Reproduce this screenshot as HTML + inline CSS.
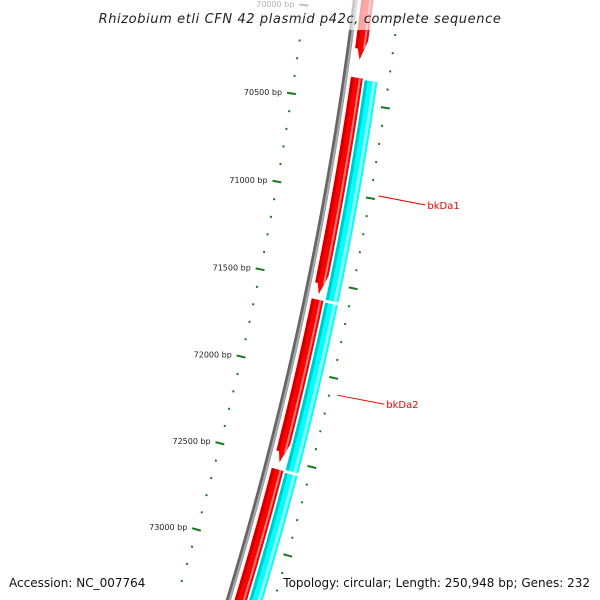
<!DOCTYPE html>
<html><head><meta charset="utf-8"><style>
body{margin:0;background:#fff;overflow:hidden;}
svg{display:block;font-family:"DejaVu Sans","Liberation Sans",sans-serif;}
</style></head><body>
<svg id="chart" width="600" height="600" viewBox="0 0 600 600" xmlns="http://www.w3.org/2000/svg">
<rect width="600" height="600" fill="#fff"/>
<g id="g"></g>
<rect x="0" y="0" width="600" height="30" fill="#fff" fill-opacity="0.65"/>
<text x="300" y="23" text-anchor="middle" font-size="13" font-style="italic" fill="#222" letter-spacing="0.6">Rhizobium etli CFN 42 plasmid p42c, complete sequence</text>
<text x="9" y="587" font-size="12" fill="#111">Accession: NC_007764</text>
<text x="590" y="587" text-anchor="end" font-size="12" fill="#111">Topology: circular; Length: 250,948 bp; Genes: 232</text>
</svg>
<script>
// data
const tickStart = 69900;
const tickEnd = 73300;
const tickStep = 100;
const majorLabels = ["70000 bp","70500 bp","71000 bp","71500 bp","72000 bp","72500 bp","73000 bp"];
const majorPositions = [70000,70500,71000,71500,72000,72500,73000];
const redStarts = [69500, 70360, 71600, 72560];
const redEnds   = [70260, 71570, 72520, 73600];
const cyanStarts = [70360, 71600, 72560];
const cyanEnds   = [71600, 72560, 73600];
const geneLabels = ["bkDa1","bkDa2"];
const geneLabelPos = [70980, 72087];

// geometry
const CX=-3184, CY=-435.7, R=3566;
const A0=0.1257, K=5.08e-5;
function ang(bp){return A0+(bp-70000)*K;}
function pt(bp,r){const a=ang(bp);return [CX+r*Math.cos(a),CY+r*Math.sin(a)];}
const NS="http://www.w3.org/2000/svg";
const g=document.getElementById('g');
function mk(tag,attrs){const e=document.createElementNS(NS,tag);for(const k in attrs)e.setAttribute(k,attrs[k]);g.appendChild(e);return e;}
function bandPath(s,e,r1,r2,arrow){
  const pts=[];const n=40;
  const bodyEnd=arrow?e-110:e;
  for(let i=0;i<=n;i++){pts.push(pt(s+(bodyEnd-s)*i/n,r1));}
  if(arrow)pts.push(pt(e,(r1+r2)/2));
  for(let i=n;i>=0;i--){pts.push(pt(s+(bodyEnd-s)*i/n,r2));}
  return 'M'+pts.map(p=>p[0].toFixed(2)+','+p[1].toFixed(2)).join('L')+'Z';
}
function arcPath(s,e,r){const pts=[];for(let i=0;i<=60;i++)pts.push(pt(s+(e-s)*i/60,r));return 'M'+pts.map(p=>p[0].toFixed(2)+','+p[1].toFixed(2)).join('L');}

let e=mk('path',{d:arcPath(69200,73600,R),stroke:'#666',"stroke-width":5,fill:'none'});


e=mk('path',{d:arcPath(69200,73600,R+1.2),stroke:'#aaa',"stroke-width":2,fill:'none'});



for(let i=0;i<redStarts.length;i++){
  e=mk('path',{d:bandPath(redStarts[i],redEnds[i],R+6,R+18,true),fill:'#ff0000'});
  
  
  e=mk('path',{d:bandPath(redStarts[i],redEnds[i]-60,R+6,R+9,false),fill:'#c80000'});
  
  
  e=mk('path',{d:bandPath(redStarts[i],redEnds[i]-60,R+14,R+16,false),fill:'#ff7a7a'});
  
  
}
for(let i=0;i<cyanStarts.length;i++){
  e=mk('path',{d:bandPath(cyanStarts[i]+8,cyanEnds[i]-8,R+20,R+33,false),fill:'#00ffff'});
  
  
  e=mk('path',{d:bandPath(cyanStarts[i]+8,cyanEnds[i]-8,R+20,R+23,false),fill:'#00c8c8'});
  
  
  e=mk('path',{d:bandPath(cyanStarts[i]+8,cyanEnds[i]-8,R+28,R+31,false),fill:'#8affff'});
  
  
}

for(let bp=tickStart;bp<=tickEnd;bp+=tickStep){
  const major=bp%500===0;
  const a1=pt(bp,major?R-55:R-51), a2=pt(bp,major?R-46:R-49);
  e=mk('line',{x1:a1[0],y1:a1[1],x2:a2[0],y2:a2[1],stroke:'#1c7a1c',"stroke-width":2});
  
  
  const b1=pt(bp,major?R+40:R+43), b2=pt(bp,major?R+49:R+45);
  e=mk('line',{x1:b1[0],y1:b1[1],x2:b2[0],y2:b2[1],stroke:'#1c7a1c',"stroke-width":2});
  
  
}
for(let i=0;i<majorPositions.length;i++){
  const p=pt(majorPositions[i],R-60);
  e=mk('text',{x:p[0],y:p[1]+3,"text-anchor":'end',"font-size":8,fill:'#222'});
  e.textContent=majorLabels[i];
  
  
}
for(let i=0;i<geneLabels.length;i++){
  const p=pt(geneLabelPos[i],R+52);
  const q=[p[0]+47,p[1]+9];
  e=mk('line',{x1:p[0],y1:p[1],x2:q[0],y2:q[1],stroke:'#e00',"stroke-width":1});
  
  
  e=mk('text',{x:q[0]+2,y:q[1]+4,"font-size":10,fill:'#e00'});
  e.textContent=geneLabels[i];
  
  
}
</script>
</body></html>
